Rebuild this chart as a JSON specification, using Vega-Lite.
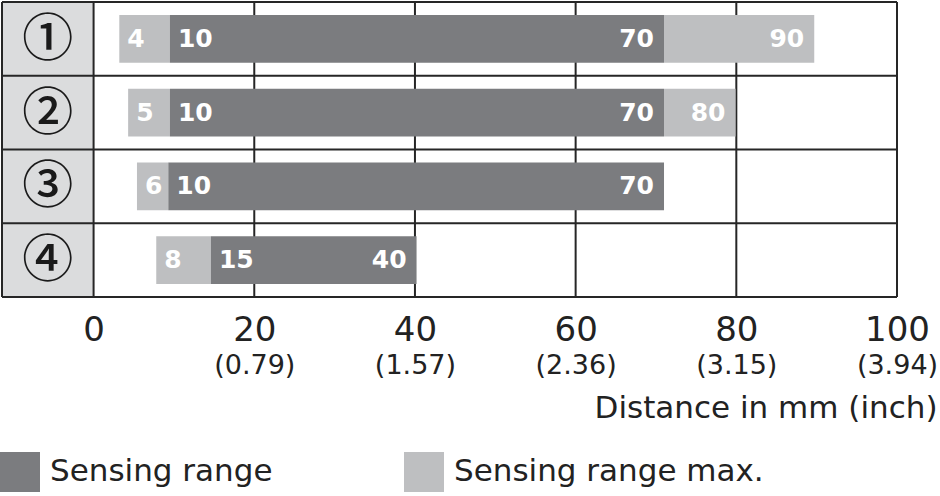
{
  "$schema": "https://vega.github.io/schema/vega-lite/v6.json",
  "width": 895,
  "height": 295,
  "autosize": "none",
  "padding": {"left": 2, "top": 2, "right": 43, "bottom": 199},
  "background": "white",
  "config": {
    "view": {"stroke": null},
    "font": "DejaVu Sans",
    "axis": {"domain": false, "ticks": false, "tickSize": 0, "grid": false, "labelColor": "#222222", "labelFont": "DejaVu Sans", "labelOverlap": false, "labelFlush": false, "labelBound": false}
  },
  "datasets": {
    "column": [{"x0": -11.4, "x1": 0}],
    "vlines": [{"x": -11.4}, {"x": 0}, {"x": 20}, {"x": 40}, {"x": 60}, {"x": 80}, {"x": 100}],
    "rows": [
      {"row": "1", "mark": "①"},
      {"row": "2", "mark": "②"},
      {"row": "3", "mark": "③"},
      {"row": "4", "mark": "④"}
    ],
    "segments": [
      {"row": "1", "type": "Sensing range max.", "start": 3.2, "end": 9.5},
      {"row": "1", "type": "Sensing range", "start": 9.5, "end": 71},
      {"row": "1", "type": "Sensing range max.", "start": 71, "end": 89.7},
      {"row": "2", "type": "Sensing range max.", "start": 4.3, "end": 9.5},
      {"row": "2", "type": "Sensing range", "start": 9.5, "end": 71},
      {"row": "2", "type": "Sensing range max.", "start": 71, "end": 79.9},
      {"row": "3", "type": "Sensing range max.", "start": 5.4, "end": 9.3},
      {"row": "3", "type": "Sensing range", "start": 9.3, "end": 71},
      {"row": "4", "type": "Sensing range max.", "start": 7.8, "end": 14.6},
      {"row": "4", "type": "Sensing range", "start": 14.6, "end": 40.2}
    ],
    "labels": [
      {"row": "1", "side": "start", "pos": 3.2, "label": "4"},
      {"row": "1", "side": "start", "pos": 9.5, "label": "10"},
      {"row": "1", "side": "end", "pos": 71, "label": "70"},
      {"row": "1", "side": "end", "pos": 89.7, "label": "90"},
      {"row": "2", "side": "start", "pos": 4.3, "label": "5"},
      {"row": "2", "side": "start", "pos": 9.5, "label": "10"},
      {"row": "2", "side": "end", "pos": 71, "label": "70"},
      {"row": "2", "side": "end", "pos": 79.9, "label": "80"},
      {"row": "3", "side": "start", "pos": 5.4, "label": "6"},
      {"row": "3", "side": "start", "pos": 9.3, "label": "10"},
      {"row": "3", "side": "end", "pos": 71, "label": "70"},
      {"row": "4", "side": "start", "pos": 7.8, "label": "8"},
      {"row": "4", "side": "start", "pos": 14.6, "label": "15"},
      {"row": "4", "side": "end", "pos": 40.2, "label": "40"}
    ]
  },
  "resolve": {"scale": {"x": "shared"}, "axis": {"x": "independent"}},
  "layer": [
    {
      "data": {"name": "column"},
      "mark": {"type": "rect", "color": "#dbdcdd"},
      "encoding": {
        "x": {
          "field": "x0", "type": "quantitative",
          "scale": {"domain": [-11.4, 100], "nice": false, "zero": false},
          "axis": {"orient": "bottom", "values": [0, 20, 40, 60, 80, 100], "labelFontSize": 34, "labelBaseline": "alphabetic", "labelPadding": 43, "title": null}
        },
        "x2": {"field": "x1"}
      }
    },
    {
      "data": {"name": "vlines"},
      "mark": {"type": "rule", "color": "#262626", "strokeWidth": 2},
      "encoding": {"x": {"field": "x", "type": "quantitative", "axis": null}}
    },
    {
      "data": {"name": "rows"},
      "mark": {"type": "rule", "color": "#262626", "strokeWidth": 2},
      "encoding": {"y": {"field": "row", "type": "ordinal", "bandPosition": 0, "scale": {"paddingInner": 0, "paddingOuter": 0}, "axis": null}}
    },
    {
      "data": {"name": "rows"},
      "transform": [{"filter": "datum.row == '4'"}],
      "mark": {"type": "rule", "color": "#262626", "strokeWidth": 2},
      "encoding": {"y": {"field": "row", "type": "ordinal", "bandPosition": 1, "axis": null}}
    },
    {
      "data": {"name": "rows"},
      "mark": {"type": "text", "font": "Noto Sans CJK JP", "fontWeight": 500, "fontSize": 51, "color": "#1a1a1a", "baseline": "middle", "align": "center", "dy": 2},
      "encoding": {
        "y": {"field": "row", "type": "ordinal", "axis": null},
        "x": {"datum": -5.7, "type": "quantitative", "axis": null},
        "text": {"field": "mark"}
      }
    },
    {
      "data": {"name": "segments"},
      "mark": {"type": "bar", "height": {"band": 0.65}},
      "encoding": {
        "y": {"field": "row", "type": "ordinal", "axis": null},
        "x": {
          "field": "start", "type": "quantitative",
          "axis": {"orient": "bottom", "values": [20, 40, 60, 80, 100], "labelExpr": "datum.value == 20 ? '(0.79)' : datum.value == 40 ? '(1.57)' : datum.value == 60 ? '(2.36)' : datum.value == 80 ? '(3.15)' : '(3.94)'", "labelFontSize": 27, "labelBaseline": "alphabetic", "labelPadding": 76, "title": "Distance in mm (inch)", "titleFont": "DejaVu Sans", "titleFontSize": 31, "titleFontWeight": "normal", "titleColor": "#222222", "titleAlign": "right", "titleAnchor": null, "titleBaseline": "alphabetic", "titleX": 935, "titleY": 120}
        },
        "x2": {"field": "end"},
        "color": {
          "field": "type", "type": "nominal",
          "scale": {"domain": ["Sensing range", "Sensing range max."], "range": ["#7b7c7f", "#bebfc1"]},
          "legend": {"title": null, "orient": "none", "legendX": -2, "legendY": 450, "direction": "horizontal", "symbolType": "square", "symbolSize": 1600, "symbolStrokeWidth": 0, "symbolOpacity": 1, "labelFont": "DejaVu Sans", "labelFontSize": 31, "labelColor": "#222222", "labelOffset": 10, "labelLimit": 0, "columnPadding": 131, "padding": 0}
        }
      }
    },
    {
      "data": {"name": "labels"},
      "transform": [{"filter": "datum.side == 'start'"}],
      "mark": {"type": "text", "align": "left", "baseline": "middle", "dx": 8, "font": "DejaVu Sans", "fontWeight": "bold", "fontSize": 25, "color": "white"},
      "encoding": {
        "y": {"field": "row", "type": "ordinal", "axis": null},
        "x": {"field": "pos", "type": "quantitative", "axis": null},
        "text": {"field": "label"}
      }
    },
    {
      "data": {"name": "labels"},
      "transform": [{"filter": "datum.side == 'end'"}],
      "mark": {"type": "text", "align": "right", "baseline": "middle", "dx": -10, "font": "DejaVu Sans", "fontWeight": "bold", "fontSize": 25, "color": "white"},
      "encoding": {
        "y": {"field": "row", "type": "ordinal", "axis": null},
        "x": {"field": "pos", "type": "quantitative", "axis": null},
        "text": {"field": "label"}
      }
    }
  ]
}
